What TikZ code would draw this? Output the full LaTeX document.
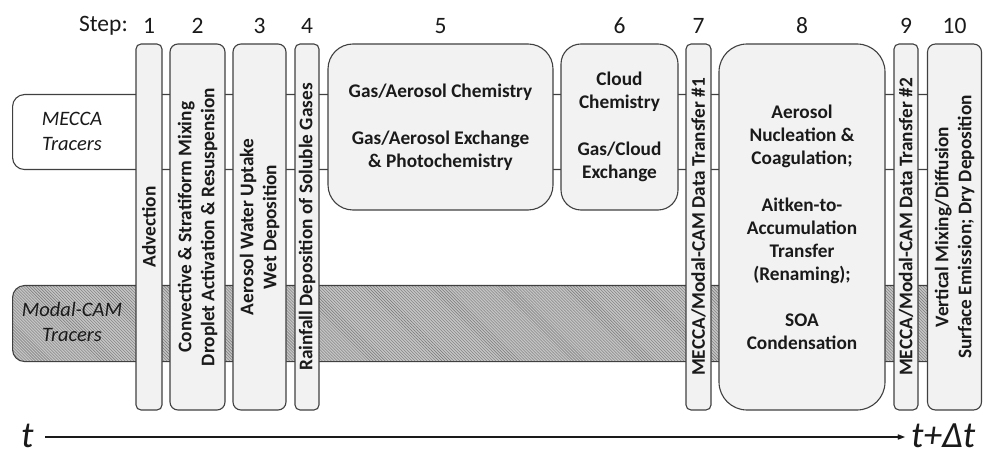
\documentclass[tikz,border=0pt]{standalone}
\usepackage{fontspec}
\setmainfont{Carlito}
\usetikzlibrary{patterns,arrows.meta}
\definecolor{boxfill}{HTML}{F2F2F2}
\definecolor{edge}{HTML}{404040}
\definecolor{hatchbg}{HTML}{C4C4C4}
\definecolor{hatchln}{HTML}{767676}
\definecolor{txt}{HTML}{1A1A1A}
\newcommand\boxfont{\fontsize{19.3bp}{23bp}\selectfont\bfseries}
\begin{document}
\begin{tikzpicture}[x=1bp,y=-1bp,
  proc/.style={draw=edge, line width=1.1bp, fill=boxfill, inner sep=0pt},
  band/.style={draw=edge, line width=1.1bp, inner sep=0pt, rounded corners=12bp, minimum width=928bp, anchor=north west},
  vtxt/.style={rotate=90, align=center, font=\boxfont, text=txt, inner sep=0pt},
  htxt/.style={align=center, font=\boxfont, text=txt, inner sep=0pt},
  steplbl/.style={font=\fontsize{23.5bp}{27bp}\selectfont, text=txt, inner sep=0pt},
  tracer/.style={font=\fontsize{20.5bp}{25bp}\selectfont\itshape, text=txt, align=center, inner sep=0pt},
  timelbl/.style={font=\fontsize{37bp}{40bp}\selectfont\itshape, text=txt, inner sep=0pt, text depth=0pt, anchor=base west}
]
\useasboundingbox (0,0) rectangle (983,454);

% tracer bands
\node[band, fill=white, minimum height=75bp] (mecca) at (12,94) {};
\node[band, minimum height=76bp, preaction={fill=hatchbg}, pattern=north west lines, pattern color=hatchln] (modal) at (12,285) {};
\node[tracer] (meccalbl) at (72,131) {MECCA\\Tracers};
\node[tracer] (modallbl) at (72,322) {Modal-CAM\\Tracers};

% process boxes
\node[proc, rounded corners=5bp, minimum width=26bp, minimum height=366bp] (b1) at (149,227) {};
\node[proc, rounded corners=8bp, minimum width=55bp, minimum height=366bp] (b2) at (197.5,227) {};
\node[proc, rounded corners=8bp, minimum width=53bp, minimum height=366bp] (b3) at (259.5,227) {};
\node[proc, rounded corners=5bp, minimum width=24bp, minimum height=366bp] (b4) at (307,227) {};
\node[proc, rounded corners=25bp, minimum width=225bp, minimum height=166bp] (b5) at (440.5,127) {};
\node[proc, rounded corners=20bp, minimum width=117bp, minimum height=166bp] (b6) at (619.5,127) {};
\node[proc, rounded corners=5bp, minimum width=25bp, minimum height=366bp] (b7) at (698.5,227) {};
\node[proc, rounded corners=28bp, minimum width=166bp, minimum height=366bp] (b8) at (802,227) {};
\node[proc, rounded corners=5bp, minimum width=24bp, minimum height=366bp] (b9) at (906,227) {};
\node[proc, rounded corners=8bp, minimum width=54bp, minimum height=366bp] (b10) at (954.5,227) {};

% box texts
\node[vtxt] (t1) at (b1.center) {Advection};
\node[vtxt] (t2) at (b2.center) {Convective \& Stratiform Mixing\\Droplet Activation \& Resuspension};
\node[vtxt] (t3) at (b3.center) {Aerosol Water Uptake\\Wet Deposition};
\node[vtxt] (t4) at (b4.center) {Rainfall Deposition of Soluble Gases};
\node[htxt] (t5) at (b5.center) {Gas/Aerosol Chemistry\\[24bp]Gas/Aerosol Exchange\\\& Photochemistry};
\node[htxt] (t6) at (b6.center) {Cloud\\Chemistry\\[24bp]Gas/Cloud\\Exchange};
\node[vtxt] (t7) at (b7.center) {MECCA/Modal-CAM Data Transfer \#1};
\node[htxt] (t8) at (b8.center) {Aerosol\\Nucleation \&\\Coagulation;\\[24bp]Aitken-to-\\Accumulation\\Transfer\\(Renaming);\\[23bp]SOA\\Condensation};
\node[vtxt] (t9) at (b9.center) {MECCA/Modal-CAM Data Transfer \#2};
\node[vtxt] (t10) at (b10.center) {Vertical Mixing/Diffusion\\Surface Emission; Dry Deposition};

% step numbers
\node[steplbl, anchor=east] (steplabel) at (128,26) {Step:};
\node[steplbl] (s1) at (b1.center |- 0,26) {1};
\node[steplbl] (s2) at (b2.center |- 0,26) {2};
\node[steplbl] (s3) at (b3.center |- 0,26) {3};
\node[steplbl] (s4) at (b4.center |- 0,26) {4};
\node[steplbl] (s5) at (b5.center |- 0,26) {5};
\node[steplbl] (s6) at (b6.center |- 0,26) {6};
\node[steplbl] (s7) at (b7.center |- 0,26) {7};
\node[steplbl] (s8) at (b8.center |- 0,26) {8};
\node[steplbl] (s9) at (b9.center |- 0,26) {9};
\node[steplbl] (s10) at (b10.center |- 0,26) {10};

% time axis
\node[timelbl] (tstart) at (21,447) {t};
\node[timelbl] (tend) at (911,447) {t+Δt};
\coordinate (axs) at (45,437);
\coordinate (axe) at (905,437);
\draw[line width=1.7bp, draw=txt, -{Stealth[length=13bp,width=10bp,inset=8bp]}] (axs) -- (axe);
\end{tikzpicture}
\end{document}
